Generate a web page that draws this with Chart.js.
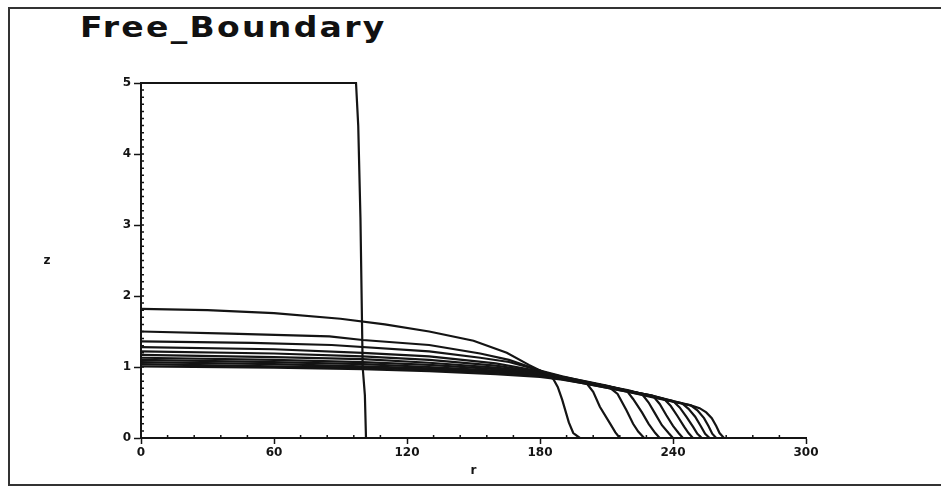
<!DOCTYPE html>
<html>
<head>
<meta charset="utf-8">
<script src="https://cdn.jsdelivr.net/npm/chart.js@4.4.1/dist/chart.umd.min.js"></script>
<style>
  html, body { margin: 0; padding: 0; background: #fff; }
  body { width: 941px; height: 486px; overflow: hidden; position: relative; }
  #frame { position: absolute; left: 8px; top: 7px; width: 960px; height: 475px; border: 2px solid #333; }
  #title { position: absolute; left: 80px; top: 10px; font: bold 29px "DejaVu Sans", sans-serif; letter-spacing: 2px; color: #111;
           transform: scaleX(1.14); transform-origin: left top; }
  canvas { position: absolute; left: 0; top: 0; }
</style>
</head>
<body>
<div id="frame"></div>
<div id="title">Free_Boundary</div>
<canvas id="chart" width="941" height="486"></canvas>
<script>
// initial column of fluid (t = 0)
const initR = [0, 97, 98, 99, 100, 101, 101.5, 110];
const initZ = [5, 5, 4.4, 3.1, 1.0, 0.6, 0, 0];

// later profiles, highest first
const p1R = [0, 30, 60, 90, 110, 130, 150, 165, 175, 182, 186, 188, 190, 193, 195, 198];
const p1Z = [1.82, 1.80, 1.76, 1.68, 1.60, 1.50, 1.37, 1.20, 1.03, 0.92, 0.83, 0.72, 0.54, 0.22, 0.07, 0];
const p2R = [0, 40, 85, 100, 130, 153, 166, 178, 185, 195, 201, 204, 207, 211.5, 214, 216];
const p2Z = [1.50, 1.47, 1.43, 1.38, 1.31, 1.19, 1.10, 0.97, 0.89, 0.82, 0.77, 0.65, 0.44, 0.21, 0.08, 0];
const p3R = [0, 50, 86, 130, 153, 166, 180, 190, 200, 211, 215, 219, 222, 224.3, 227];
const p3Z = [1.36, 1.34, 1.31, 1.22, 1.13, 1.07, 0.95, 0.87, 0.80, 0.72, 0.62, 0.39, 0.20, 0.09, 0];
const p4R = [0, 60, 100, 130, 160, 180, 190, 200, 210, 219, 222, 226, 229, 232, 234];
const p4Z = [1.28, 1.25, 1.20, 1.15, 1.05, 0.94, 0.86, 0.80, 0.74, 0.67, 0.55, 0.36, 0.20, 0.07, 0];
const p5R = [0, 60, 100, 130, 160, 180, 190, 200, 210, 220, 226, 229, 232, 235, 238, 240];
const p5Z = [1.22, 1.19, 1.15, 1.10, 1.02, 0.93, 0.86, 0.79, 0.73, 0.67, 0.62, 0.50, 0.34, 0.18, 0.07, 0];
const p6R = [0, 60, 100, 130, 160, 180, 190, 200, 210, 220, 231, 234, 237, 240, 242.5, 244.5];
const p6Z = [1.17, 1.14, 1.11, 1.06, 0.99, 0.92, 0.85, 0.79, 0.73, 0.66, 0.59, 0.48, 0.32, 0.17, 0.07, 0];
const p7R = [0, 60, 100, 130, 160, 180, 190, 200, 210, 220, 230, 236, 239, 242, 245, 247, 249];
const p7Z = [1.13, 1.10, 1.07, 1.03, 0.97, 0.91, 0.85, 0.79, 0.73, 0.66, 0.60, 0.55, 0.45, 0.31, 0.16, 0.07, 0];
const p8R = [0, 60, 100, 130, 160, 180, 190, 200, 210, 220, 230, 240, 243, 246, 249, 251, 253];
const p8Z = [1.10, 1.07, 1.04, 1.00, 0.95, 0.90, 0.84, 0.78, 0.72, 0.66, 0.60, 0.52, 0.43, 0.30, 0.16, 0.06, 0];
const p9R = [0, 60, 100, 130, 160, 180, 190, 200, 210, 220, 230, 238, 244, 247, 250, 252.5, 254.5, 256.5];
const p9Z = [1.07, 1.04, 1.01, 0.98, 0.93, 0.89, 0.84, 0.78, 0.72, 0.66, 0.59, 0.53, 0.49, 0.41, 0.30, 0.17, 0.06, 0];
const p10R = [0, 60, 100, 130, 160, 180, 190, 200, 210, 220, 230, 240, 248, 251, 254, 256, 257.7, 259.5];
const p10Z = [1.04, 1.01, 0.99, 0.96, 0.92, 0.88, 0.83, 0.77, 0.71, 0.65, 0.59, 0.52, 0.46, 0.39, 0.28, 0.17, 0.06, 0];
const p11R = [0, 60, 100, 130, 160, 180, 190, 200, 210, 220, 230, 240, 248, 252, 255, 257.5, 259.5, 261, 263, 268];
const p11Z = [1.01, 0.99, 0.97, 0.94, 0.90, 0.86, 0.82, 0.77, 0.71, 0.65, 0.58, 0.51, 0.46, 0.42, 0.36, 0.28, 0.17, 0.07, 0, 0];

const rTicks = [0, 60, 120, 180, 240, 300];
const zTicks = [0, 1, 2, 3, 4, 5];
const rMinorStep = 12;
const zMinorStep = 0.1;

const profiles = [
  [initR, initZ],
  [p1R, p1Z], [p2R, p2Z], [p3R, p3Z], [p4R, p4Z], [p5R, p5Z], [p6R, p6Z],
  [p7R, p7Z], [p8R, p8Z], [p9R, p9Z], [p10R, p10Z], [p11R, p11Z]
];

const ink = '#141414';

// unrotated "z" label and the small inner ticks
const axisExtras = {
  id: 'axisExtras',
  afterDraw(chart) {
    const { ctx, scales: { x, y } } = chart;
    ctx.save();
    ctx.fillStyle = ink;
    ctx.font = 'bold 12px "DejaVu Sans"';
    ctx.textAlign = 'center';
    ctx.textBaseline = 'middle';
    ctx.fillText('z', y.left + 12, (y.top + y.bottom) / 2);
    ctx.strokeStyle = ink;
    ctx.lineWidth = 1.5;
    ctx.beginPath();
    for (let v = zMinorStep; v < zTicks[zTicks.length - 1]; v += zMinorStep) {
      const py = y.getPixelForValue(v);
      ctx.moveTo(x.left, py);
      ctx.lineTo(x.left + 3, py);
    }
    for (let v = rMinorStep; v < rTicks[rTicks.length - 1]; v += rMinorStep) {
      if (v % 60 === 0) continue;
      const px = x.getPixelForValue(v);
      ctx.moveTo(px, y.bottom);
      ctx.lineTo(px, y.bottom - 3);
    }
    ctx.stroke();
    ctx.restore();
  }
};

const tickFont = { family: '"DejaVu Sans"', size: 12, weight: 'bold' };

new Chart(document.getElementById('chart'), {
  type: 'line',
  data: {
    datasets: profiles.map(([rs, zs], i) => ({
      label: i === 0 ? 't0' : 't' + i,
      data: rs.map((r, k) => ({ x: r, y: zs[k] })),
      borderColor: ink,
      borderWidth: 2.2,
      pointRadius: 0,
      tension: 0,
      fill: false,
      clip: false
    }))
  },
  options: {
    responsive: false,
    animation: false,
    layout: { padding: { left: 35, right: 135, top: 83, bottom: 8 } },
    plugins: {
      legend: { display: false },
      tooltip: { enabled: false },
      title: { display: false }
    },
    scales: {
      x: {
        type: 'linear',
        min: rTicks[0],
        max: rTicks[rTicks.length - 1],
        afterBuildTicks: s => { s.ticks = rTicks.map(v => ({ value: v })); },
        afterFit: s => { s.height = 40; },
        grid: { drawOnChartArea: false, drawTicks: true, tickLength: 6, tickColor: ink, tickWidth: 1.5 },
        border: { display: true, color: ink, width: 2 },
        ticks: { color: ink, font: tickFont, padding: 2, maxRotation: 0 },
        title: { display: true, text: 'r', color: ink, font: tickFont, padding: 0 }
      },
      y: {
        type: 'linear',
        min: zTicks[0],
        max: zTicks[zTicks.length - 1],
        afterBuildTicks: s => { s.ticks = zTicks.map(v => ({ value: v })); },
        afterFit: s => { s.width = 106; },
        grid: { drawOnChartArea: false, drawTicks: true, tickLength: 7, tickColor: ink, tickWidth: 1.5 },
        border: { display: true, color: ink, width: 2 },
        ticks: { color: ink, font: tickFont, padding: 3 }
      }
    }
  },
  plugins: [axisExtras]
});
</script>
</body>
</html>
